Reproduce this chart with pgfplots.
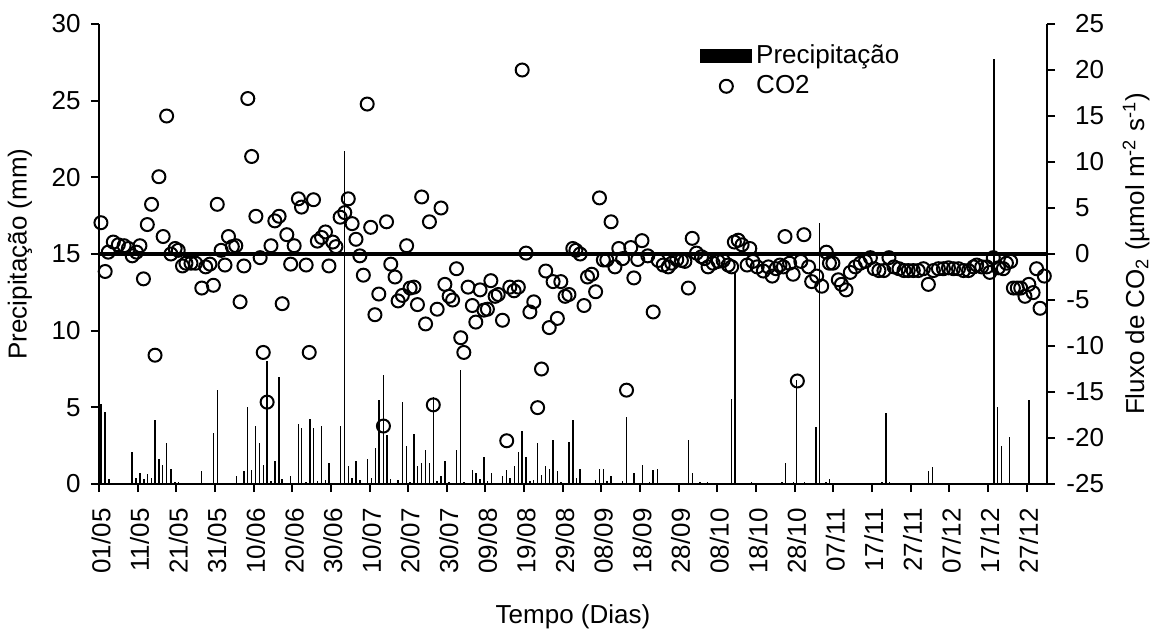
\documentclass[border=0pt]{standalone}
\usepackage{fontspec}
\setmainfont{Liberation Sans}
\usepackage{pgfplots}
\pgfplotsset{compat=1.18}
\begin{document}
\fontsize{13pt}{15.6pt}\selectfont
\begin{tikzpicture}
\path[use as bounding box] (-49.5pt,-74.5pt) rectangle (526pt,242pt);
\pgfplotsset{
  common/.style={
    at={(0,0)}, anchor=south west,
    scale only axis, width=474pt, height=230pt,
    xmin=0, xmax=245.3,
    /pgf/number format/assume math mode=true,
    tick align=outside, major tick length=4pt,
    tick style={line width=1pt, black},
    axis line style={line width=1pt, -},
    every outer x axis line/.append style={-},
    every outer y axis line/.append style={-},
    tick label style={font=\fontsize{13pt}{15.6pt}\selectfont},
    label style={font=\fontsize{13pt}{15.6pt}\selectfont},
  }
}
\begin{axis}[common,
  ymin=0, ymax=30,
  axis x line*=bottom, axis y line*=left,
  xtick={0,10,...,240},
  xticklabels={01/05,11/05,21/05,31/05,10/06,20/06,30/06,10/07,20/07,30/07,09/08,19/08,29/08,08/09,18/09,28/09,08/10,18/10,28/10,07/11,17/11,27/11,07/12,17/12,27/12},
  ytick={0,5,...,30},
  xticklabel style={rotate=90, anchor=east, inner sep=0pt, xshift=-8pt, yshift=-1pt},
  yticklabel style={anchor=east, inner sep=0pt, xshift=-5pt},
  ylabel={Precipitação (mm)},
  ylabel style={at={(axis description cs:-0.0833,0.5)}, anchor=center},
  xlabel={Tempo (Dias)},
  xlabel style={at={(axis description cs:0.5,-0.289)}, anchor=center},
]
\addplot[ycomb, black, line width=0.7pt, no marks] coordinates {
(0.5,5.2) (1.6,4.7) (2.6,0.3) (8.5,2.1) (9.6,0.4) (10.6,0.75) (11.6,0.3) (12.5,0.65)
(13.6,0.4) (14.5,4.15) (15.5,1.6) (16.4,1.26) (17.5,2.7) (18.6,1.0) (19.7,0.1) (20.5,0.1)
(26.6,0.87) (29.6,3.3) (30.6,6.15) (35.6,0.5) (37.5,0.87) (38.5,5.0) (39.5,0.9) (40.5,3.8)
(41.5,2.7) (42.5,1.26) (43.5,8.0) (44.5,0.2) (45.5,1.5) (46.6,7.0) (47.4,0.3) (49.6,0.5)
(51.6,3.9) (52.4,3.65) (53.6,0.1) (54.6,4.25) (55.5,3.65) (56.5,0.2) (57.6,3.8) (58.6,0.25)
(59.5,1.4) (62.5,3.8) (63.6,21.7) (64.5,1.2) (65.5,0.4) (66.5,1.5) (67.5,0.25) (69.5,1.6)
(70.5,0.4) (71.6,2.35) (72.5,5.5) (73.6,7.1) (74.5,3.2) (75.5,0.3) (77.4,0.25) (78.5,5.35)
(79.5,2.45) (80.5,0.1) (81.5,3.25) (82.4,1.2) (83.5,1.35) (84.5,2.25) (85.5,1.35) (86.5,5.7)
(87.5,0.2) (88.5,0.55) (89.5,1.5) (90.6,0.1) (92.5,2.2) (93.6,7.45) (94.4,0.1) (96.6,0.9)
(97.5,0.75) (98.6,0.3) (99.6,1.75) (100.5,0.2) (101.6,0.75) (104.4,0.5) (105.5,0.9) (106.3,0.4)
(107.5,1.2) (108.5,2.1) (109.5,3.45) (110.5,1.75) (111.5,0.2) (112.5,0.25) (113.5,2.7) (114.5,0.6)
(115.6,1.2) (116.5,1.0) (117.5,2.85) (118.6,0.85) (119.5,0.1) (121.6,2.75) (122.6,4.15) (123.5,0.4)
(124.5,1.0) (128.5,0.25) (129.5,1.0) (130.5,1.0) (131.4,0.2) (132.5,0.5) (135.5,0.2) (136.5,4.35)
(138.4,0.75) (140.6,1.26) (142.5,0.1) (143.4,0.9) (144.5,1.0) (152.6,2.85) (153.6,0.75) (155.5,0.1)
(157.4,0.1) (163.7,5.55) (164.6,13.8) (168.8,0.1) (176.7,0.1) (177.7,1.4) (179.7,0.1) (180.5,6.8)
(182.6,0.1) (185.5,3.7) (186.5,17.0) (188.1,0.1) (189,0.3) (202.6,0.1) (203.6,4.6) (204.6,0.1)
(214.6,0.87) (215.6,1.1) (231.6,27.7) (232.5,5.0) (233.5,2.45) (235.6,3.05) (240.6,5.45)
};
\end{axis}
\begin{axis}[common,
  ymin=-25, ymax=25,
  axis x line=none, axis y line*=right,
  ytick={-25,-20,...,25},
  yticklabels={-25,-20,-15,-10,-5,\phantom{-}0,\phantom{-}5,\phantom{-}10,\phantom{-}15,\phantom{-}20,\phantom{-}25},
  yticklabel style={anchor=west, inner sep=0pt, xshift=5.5pt},
  ylabel={Fluxo de CO\textsubscript{2} (µmol m\textsuperscript{-2} s\textsuperscript{-1})},
  ylabel style={at={(axis description cs:1.0939,0.5)}, anchor=center, rotate=0},
  legend style={at={(axis description cs:0.634,0.965)}, anchor=north west, draw=none, fill=none,
    inner sep=0pt, row sep=0pt, font=\fontsize{13pt}{15.6pt}\selectfont,
    /tikz/every even column/.append style={column sep=3pt}},
  legend cell align=left,
]
\addlegendimage{legend image code/.code={\fill[black] (0pt,-3.25pt) rectangle (25.5pt,3.25pt);}}
\addlegendentry{Precipitação}
\addplot[forget plot, black, line width=2pt, no marks] coordinates {(0,0) (245.3,0)};
\addplot[only marks, mark=o, mark size=3.25pt, black, mark options={line width=1pt, fill=none},
  legend image code/.code={\path[draw=none, fill=none] (0pt,-3.25pt) rectangle (25.5pt,3.25pt); \draw[line width=1pt, fill=none] (12.75pt,0pt) circle (3.25pt);}] coordinates {
(0.5,3.4) (1.6,-1.9) (2.4,0.2) (3.7,1.3) (5.0,1.0) (6.5,0.9) (7.6,0.6) (8.6,-0.2) (9.7,0.2) (10.6,0.9)
(11.5,-2.7) (12.5,3.2) (13.6,5.4) (14.5,-11.0) (15.5,8.4) (16.6,1.9) (17.5,15.0) (18.6,0.0) (19.7,0.6) (20.5,0.4)
(21.6,-1.3) (22.5,-1.0) (23.8,-1.0) (25.0,-1.0) (26.6,-3.7) (27.6,-1.4) (28.7,-1.1) (29.6,-3.4) (30.6,5.4) (31.6,0.4)
(32.6,-1.2) (33.5,1.9) (34.5,0.8) (35.4,0.9) (36.5,-5.2) (37.5,-1.3) (38.5,16.9) (39.5,10.6) (40.6,4.1) (41.7,-0.4)
(42.5,-10.7) (43.5,-16.1) (44.5,0.9) (45.5,3.6) (46.6,4.1) (47.4,-5.4) (48.6,2.1) (49.6,-1.1) (50.5,0.9) (51.6,6.0)
(52.4,5.1) (53.6,-1.2) (54.4,-10.7) (55.5,5.9) (56.5,1.4) (57.6,1.8) (58.6,2.4) (59.5,-1.3) (60.5,1.3) (61.3,0.8)
(62.4,4.0) (63.6,4.5) (64.5,6.0) (65.5,3.3) (66.5,1.6) (67.5,-0.2) (68.4,-2.3) (69.4,16.3) (70.3,2.9) (71.4,-6.6)
(72.4,-4.35) (73.6,-18.7) (74.4,3.5) (75.5,-1.1) (76.6,-2.5) (77.4,-5.1) (78.5,-4.5) (79.6,0.9) (80.5,-3.7) (81.5,-3.6)
(82.4,-5.5) (83.5,6.2) (84.5,-7.6) (85.5,3.5) (86.5,-16.4) (87.5,-6.0) (88.5,5.0) (89.5,-3.3) (90.6,-4.6) (91.5,-5.0)
(92.5,-1.6) (93.6,-9.1) (94.4,-10.7) (95.5,-3.6) (96.6,-5.6) (97.5,-7.4) (98.6,-3.9) (99.6,-6.1) (100.5,-6.0) (101.4,-2.9)
(102.5,-4.6) (103.3,-4.4) (104.4,-7.2) (105.5,-20.3) (106.3,-3.6) (107.4,-4.0) (108.5,-3.6) (109.5,20.0) (110.5,0.1) (111.5,-6.3)
(112.5,-5.2) (113.5,-16.7) (114.5,-12.5) (115.6,-1.85) (116.5,-8.0) (117.5,-3.0) (118.6,-7.0) (119.5,-3.0) (120.6,-4.6) (121.6,-4.4)
(122.6,0.6) (123.4,0.4) (124.5,0.0) (125.5,-5.6) (126.4,-2.5) (127.5,-2.2) (128.5,-4.1) (129.5,6.1) (130.5,-0.65) (131.4,-0.65)
(132.5,3.5) (133.5,-1.4) (134.5,0.6) (135.5,-0.5) (136.5,-14.8) (137.6,0.7) (138.4,-2.6) (139.4,-0.6) (140.5,1.45) (142.0,-0.2)
(143.4,-6.3) (144.7,-0.7) (146.0,-1.2) (147.3,-1.4) (148.2,-1.0) (149.5,-0.6) (150.7,-0.7) (151.6,-0.8) (152.5,-3.7) (153.5,1.7)
(154.6,0.1) (155.9,-0.3) (156.7,-0.5) (157.6,-1.4) (158.9,-1.0) (160.2,-0.8) (161.5,-0.7) (162.8,-1.2) (163.7,-1.4) (164.4,1.3)
(165.4,1.5) (166.4,1.0) (167.7,-1.2) (168.4,0.6) (169.2,-0.8) (170.3,-1.4) (171.9,-1.85) (173.2,-1.4) (174.2,-2.4) (175.2,-1.6)
(176.2,-1.2) (177.1,-1.4) (177.5,1.9) (178.7,-1.0) (179.6,-2.2) (180.7,-13.8) (181.6,-0.8) (182.4,2.1) (183.6,-1.4) (184.4,-3.0)
(185.7,-2.4) (187.0,-3.5) (188.2,0.2) (189.0,-1.0) (189.9,-1.0) (191.3,-2.8) (192.1,-3.3) (193.3,-3.9) (194.4,-2.0) (195.7,-1.4)
(197.0,-1.0) (198.3,-0.8) (199.6,-0.4) (200.6,-1.6) (201.8,-1.8) (203.1,-1.8) (204.4,-0.4) (205.7,-1.4) (207.0,-1.6) (208.3,-1.8)
(209.4,-1.8) (210.7,-1.8) (212.0,-1.8) (213.3,-1.6) (214.6,-3.3) (215.9,-1.8) (217.2,-1.6) (218.5,-1.6) (219.8,-1.5) (221.1,-1.6)
(222.4,-1.6) (223.7,-1.8) (225.0,-1.8) (226.3,-1.4) (227.1,-1.2) (228.4,-1.4) (229.7,-1.4) (230.5,-2.0) (231.4,-0.4) (232.7,-1.5)
(234.0,-1.6) (234.8,-1.0) (235.9,-0.8) (236.6,-3.7) (237.6,-3.7) (238.5,-3.7) (239.6,-4.6) (240.6,-3.3) (241.7,-4.2) (242.6,-1.6)
(243.5,-5.9) (244.6,-2.4)
};
\addlegendentry{CO2}
\end{axis}
\end{tikzpicture}
\end{document}
